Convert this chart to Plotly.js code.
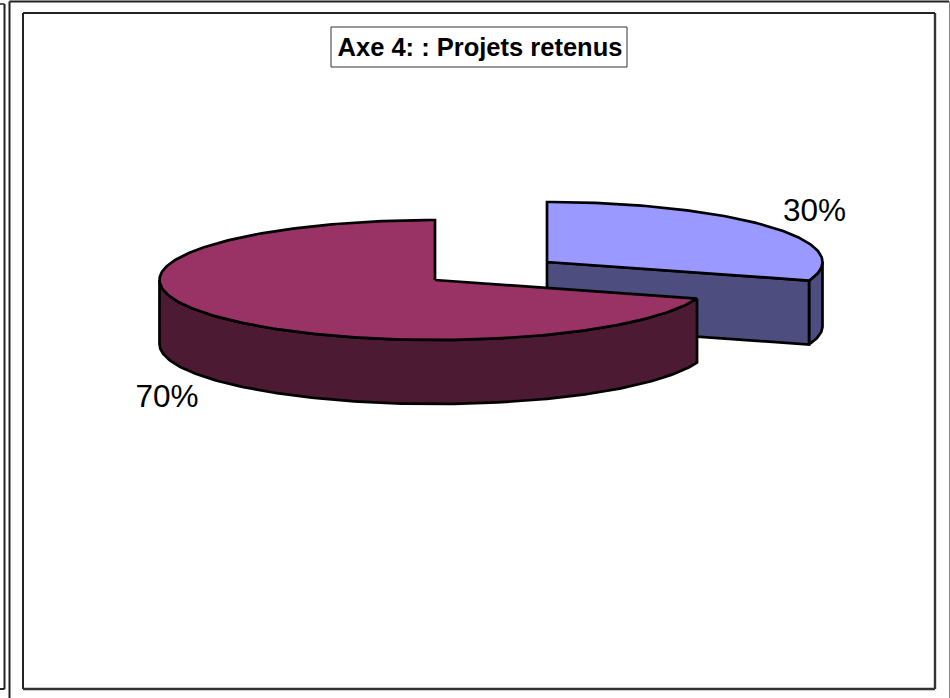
<!DOCTYPE html>
<html>
<head>
<meta charset="utf-8">
<script src="https://cdn.plot.ly/plotly-3.0.1.min.js"></script>
<style>html,body{margin:0;padding:0;background:#fff;overflow:hidden}</style>
</head>
<body>
<div id="chart" style="width:950px;height:698px"></div>
<script>
// Data
const sliceNames = ["Projets retenus A", "Projets retenus B"];
const shares = [30, 70];
const shareLabels = ["30%", "70%"];
const chartTitle = "Axe 4: : Projets retenus";

// Appearance and 3D projection
const topColors = ["#9999ff", "#993366"];
const wallColors = ["#4d4d80", "#4d1a33"];
const centers = [[547, 262], [435, 280]];
const labelPos = [[814.5, 213], [167, 399.5]];
const RX = 275.5, RY = 60, DEPTH = 64;
const total = shares.reduce((a, b) => a + b, 0);

function pt(c, deg, dz) {
  const r = deg * Math.PI / 180;
  return [c[0] + RX * Math.sin(r), c[1] - RY * Math.cos(r) + (dz || 0)];
}
function arc(c, a0, a1, dz) {
  const n = Math.max(2, Math.ceil(Math.abs(a1 - a0)));
  const out = [];
  for (let i = 0; i <= n; i++) out.push(pt(c, a0 + (a1 - a0) * i / n, dz));
  return out;
}
function poly(points, fill, name) {
  const closed = points.concat([points[0]]);
  return {
    type: "scatter", mode: "lines", name: name, fill: "toself", fillcolor: fill,
    x: closed.map(p => p[0]), y: closed.map(p => p[1]),
    line: {color: "#000", width: 2.7, shape: "linear"}, hoverinfo: "skip", showlegend: false
  };
}

const traces = [];
let start = 0;
shares.forEach((v, i) => {
  const end = start + v / total * 360;
  const c = centers[i];
  if (i === 0) {
    // Blue slice: cut wall and the rim visible to its right
    traces.push(poly(arc(c, 90, end).concat(arc(c, end, 90, DEPTH)), wallColors[i], sliceNames[i] + " rim"));
    traces.push(poly([c, pt(c, end), pt(c, end, DEPTH), [c[0], c[1] + DEPTH]], wallColors[i], sliceNames[i] + " cut"));
  } else {
    // Red slice: outer rim from the cut to the left extreme
    traces.push(poly(arc(c, start, 270).concat(arc(c, 270, start, DEPTH)), wallColors[i], sliceNames[i] + " rim"));
  }
  traces.push(poly([c].concat(arc(c, start, end)), topColors[i], sliceNames[i] + " top"));
  start = end;
});

traces.push({
  type: "scatter", mode: "text", x: labelPos.map(p => p[0]), y: labelPos.map(p => p[1]),
  text: shareLabels, textposition: "middle center",
  textfont: {family: "Liberation Sans, Arial, sans-serif", size: 31.5, color: "#000"},
  hoverinfo: "skip", showlegend: false
});

function box(x0, y0, x1, y1, w, color) {
  return {type: "rect", xref: "x", yref: "y", x0, y0, x1, y1,
          line: {color: color || "#111", width: w}, fillcolor: "rgba(0,0,0,0)", layer: "below"};
}
function seg(x0, y0, x1, y1, w, color) {
  return {type: "line", xref: "x", yref: "y", x0, y0, x1, y1, line: {color: color || "#222", width: w}, layer: "below"};
}

const layout = {
  width: 950, height: 698,
  margin: {l: 0, r: 0, t: 0, b: 0},
  paper_bgcolor: "#fff", plot_bgcolor: "#fff",
  showlegend: false, hovermode: false,
  title: {
    text: "<b>" + chartTitle + "</b>",
    x: 480 / 950, xref: "paper", xanchor: "center",
    y: 1 - 47 / 698, yref: "container", yanchor: "middle",
    font: {family: "Liberation Sans, Arial, sans-serif", size: 25.5, color: "#000"}
  },
  xaxis: {range: [0, 950], visible: false, fixedrange: true},
  yaxis: {range: [698, 0], visible: false, fixedrange: true},
  shapes: [
    seg(0, 4, 4.5, 4, 1.5), seg(4.5, 4, 4.5, 689, 2), seg(0, 689, 4.5, 689, 2),
    seg(9.5, 1.5, 949, 1.5, 2), seg(9.5, 1.5, 9.5, 698, 2), seg(949.5, 1.5, 949.5, 698, 1, "#888"),
    seg(23, 13, 935, 13, 2), seg(23, 13, 23, 689, 2),
    seg(935, 13, 935, 689, 2.4, "#333"), seg(23, 689, 935, 689, 2.4, "#333"),
    box(331, 27, 627, 67, 1, "#333")
  ]
};

Plotly.newPlot("chart", traces, layout, {displayModeBar: false, staticPlot: true});
</script>
</body>
</html>
